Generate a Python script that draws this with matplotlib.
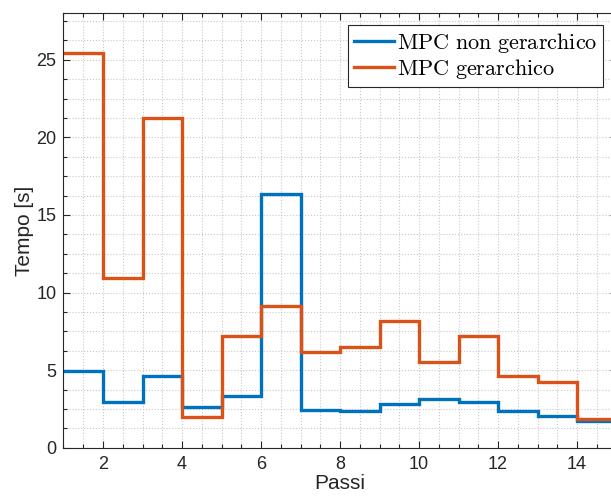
import numpy as np
import matplotlib.pyplot as plt
from matplotlib.ticker import MultipleLocator

plt.rcParams['mathtext.fontset'] = 'cm'

# Data (passi 1..15, one value per step)
passi = np.arange(1, 16)
t_non_gerarchico = [4.95, 2.92, 4.59, 2.60, 3.33, 16.37, 2.43, 2.36, 2.79, 3.13, 2.96, 2.38, 2.06, 1.74]
t_gerarchico = [25.44, 10.96, 21.24, 2.00, 7.21, 9.14, 6.18, 6.46, 8.15, 5.53, 7.21, 4.61, 4.23, 1.83]

fig = plt.figure(figsize=(6.11, 4.97), dpi=100)
ax = fig.add_axes([63.5 / 611, (497 - 447.7) / 497, 553 / 611, 434.4 / 497])

dark = '#262626'
ax.stairs(t_non_gerarchico, passi, baseline=None, color='#0072BD', lw=2.4,
          label=r'$\mathrm{MPC\ non\ gerarchico}$')
ax.stairs(t_gerarchico, passi, baseline=None, color='#D95319', lw=2.4,
          label=r'$\mathrm{MPC\ gerarchico}$')

ax.set_xlim(1, 15)
ax.set_ylim(0, 28)
ax.xaxis.set_major_locator(MultipleLocator(2))
ax.xaxis.set_minor_locator(MultipleLocator(0.5))
ax.yaxis.set_major_locator(MultipleLocator(5))
ax.yaxis.set_minor_locator(MultipleLocator(1.25))
ax.tick_params(which='both', direction='in', top=True, right=True, colors=dark,
               labelsize=13, width=0.8)
ax.tick_params(which='major', length=5)
ax.tick_params(which='minor', length=3)
ax.tick_params(axis='x', pad=6)
ax.tick_params(axis='y', pad=5)
for lbl in ax.get_xticklabels() + ax.get_yticklabels():
    lbl.set_family('Liberation Sans')
for s in ax.spines.values():
    s.set_color(dark)
    s.set_linewidth(0.8)

ax.grid(which='both', linestyle=':', color='#c8c8c8', linewidth=0.8)
ax.set_axisbelow(True)

ax.set_xlabel('Passi', fontsize=15, family='Liberation Sans', color=dark, labelpad=1)
ax.set_ylabel('Tempo [s]', fontsize=15, family='Liberation Sans', color=dark, labelpad=2)

leg = ax.legend(loc='upper right', bbox_to_anchor=(539.5 / 553, 1 - 12 / 434.4),
                fontsize=16, frameon=True, fancybox=False, handlelength=1.8,
                handletextpad=0.15, borderpad=0.25, labelspacing=0.1, borderaxespad=0)
leg.get_frame().set_edgecolor(dark)
leg.get_frame().set_linewidth(0.8)
leg.get_frame().set_alpha(1)

fig.savefig('out.png', dpi=100)
